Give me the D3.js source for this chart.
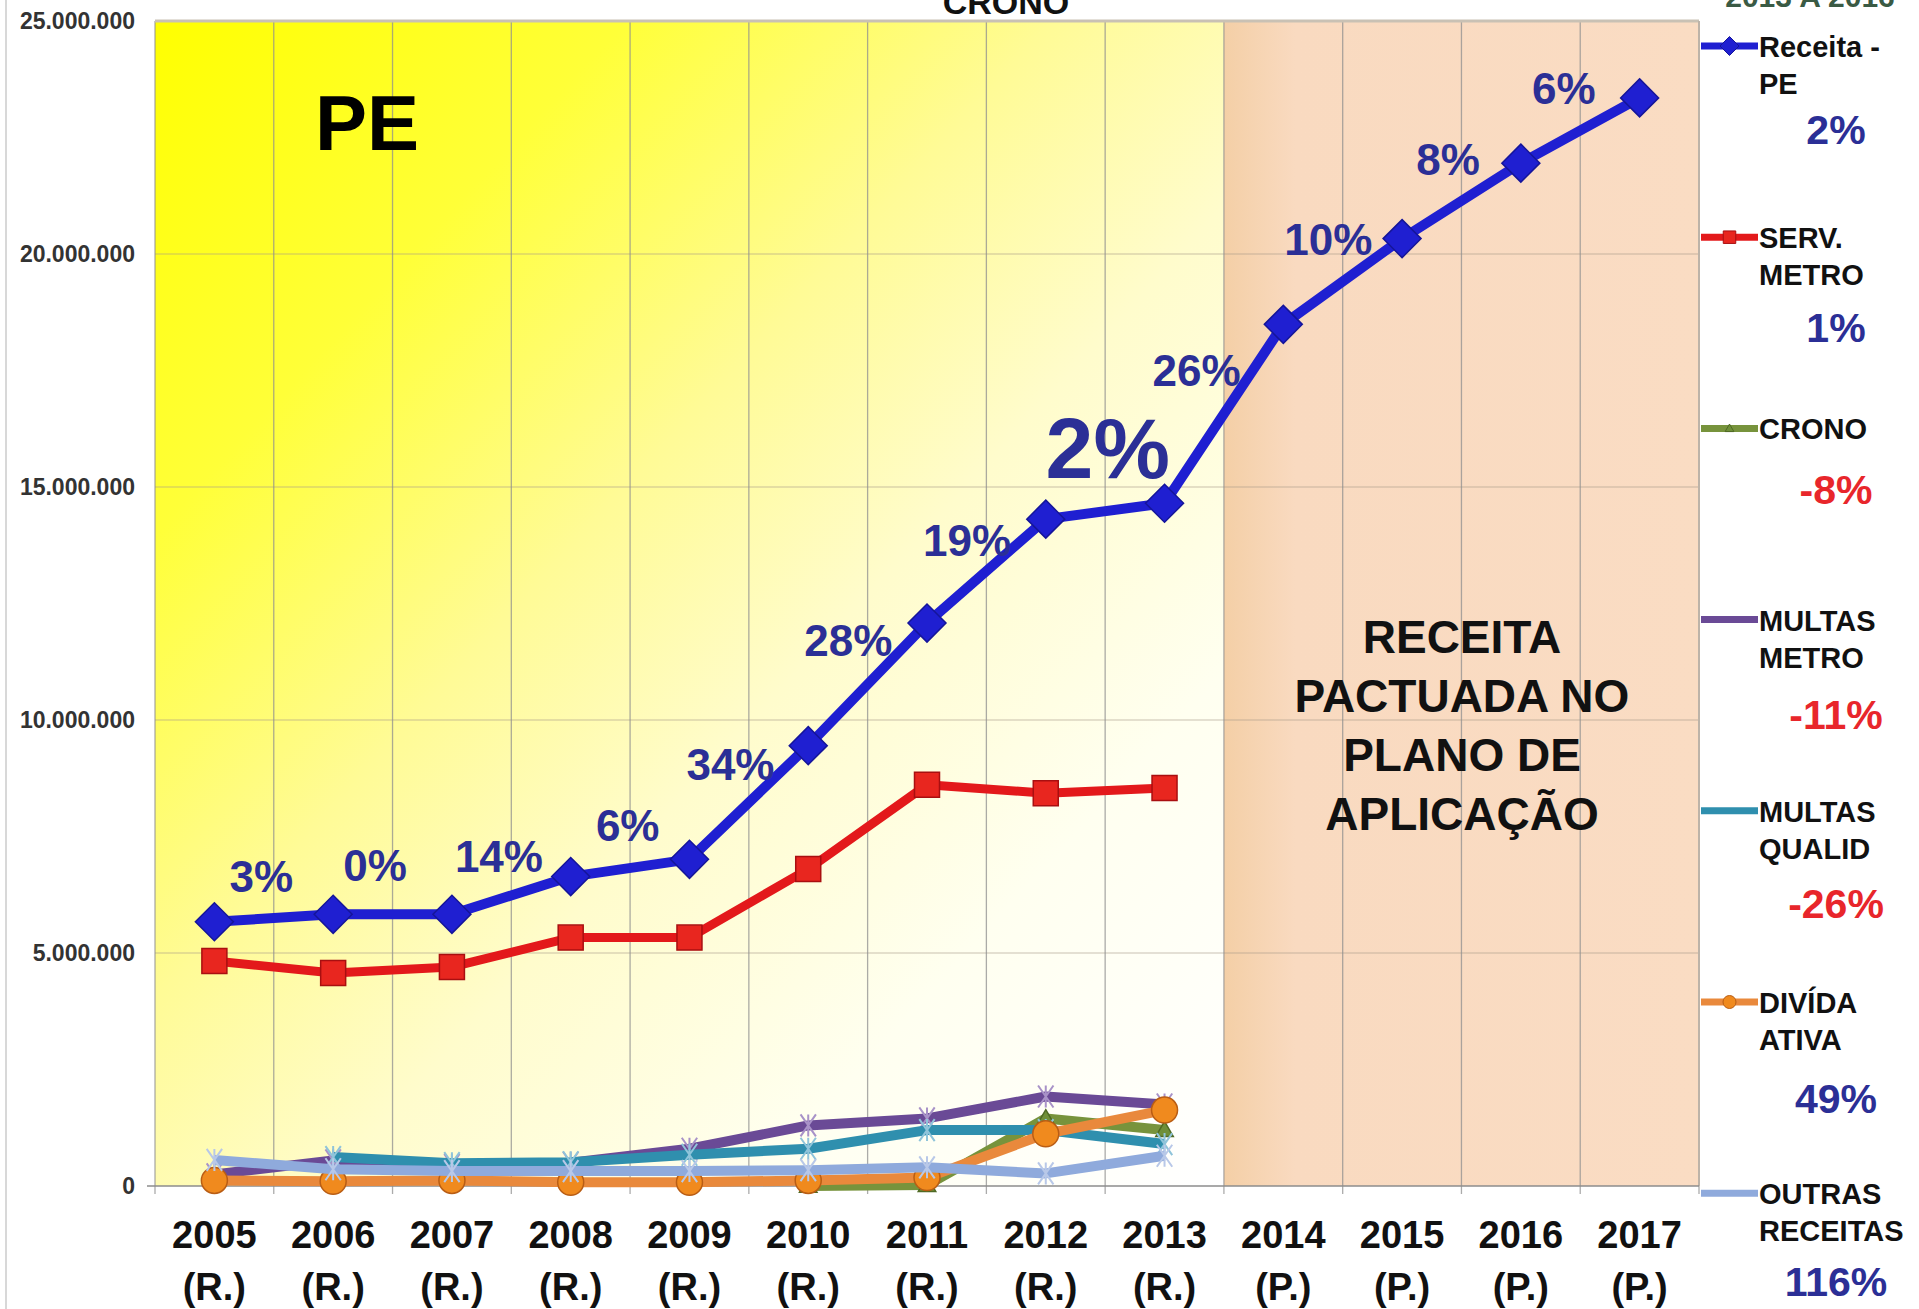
<!DOCTYPE html>
<html>
<head>
<meta charset="utf-8">
<script src="https://cdn.jsdelivr.net/npm/d3@7"></script>
<style>
  body { margin: 0; background: #fff; }
  svg { display: block; }
  text { font-family: "Liberation Sans", Arial, sans-serif; font-weight: bold; }
</style>
</head>
<body>
<div id="chart"></div>
<script>
// ---- data ----
var years = ["2005","2006","2007","2008","2009","2010","2011","2012","2013","2014","2015","2016","2017"];
var yearKind = ["(R.)","(R.)","(R.)","(R.)","(R.)","(R.)","(R.)","(R.)","(R.)","(P.)","(P.)","(P.)","(P.)"];

var receitaPE     = [5.67e6, 5.83e6, 5.83e6, 6.64e6, 7.01e6, 9.45e6, 12.08e6, 14.31e6, 14.65e6, 18.49e6, 20.33e6, 21.95e6, 23.35e6];
var servMetro     = [4.83e6, 4.57e6, 4.70e6, 5.33e6, 5.33e6, 6.80e6, 8.61e6, 8.43e6, 8.54e6, null, null, null, null];
var crono         = [null, null, null, null, null, 0.0, 0.02e6, 1.45e6, 1.20e6, null, null, null, null];
var multasMetro   = [0.25e6, 0.55e6, 0.45e6, 0.50e6, 0.80e6, 1.30e6, 1.45e6, 1.92e6, 1.75e6, null, null, null, null];
var multasQualid  = [null, 0.62e6, 0.49e6, 0.51e6, 0.67e6, 0.80e6, 1.20e6, 1.20e6, 0.90e6, null, null, null, null];
var dividaAtiva   = [0.12e6, 0.10e6, 0.12e6, 0.08e6, 0.08e6, 0.12e6, 0.18e6, 1.12e6, 1.63e6, null, null, null, null];
var outrasReceitas= [0.56e6, 0.36e6, 0.32e6, 0.32e6, 0.32e6, 0.34e6, 0.40e6, 0.27e6, 0.65e6, null, null, null, null];

var growthLabels = ["3%","0%","14%","6%","34%","28%","19%","2%","26%","10%","8%","6%"];

var seriesNames = [["Receita -","PE"],["SERV.","METRO"],["CRONO"],["MULTAS","METRO"],["MULTAS","QUALID"],["DIVÍDA","ATIVA"],["OUTRAS","RECEITAS"]];
var seriesPct   = ["2%","1%","-8%","-11%","-26%","49%","116%"];

var yTicks = [0, 5e6, 10e6, 15e6, 20e6, 25e6];
var projText = ["RECEITA","PACTUADA NO","PLANO DE","APLICAÇÃO"];

// ---- layout ----
var W = 1919, H = 1309;
var plotL = 155, plotR = 1699, plotT = 21, plotB = 1186;
var lastReal = "2013";

// label offsets from their point (px)
var growthOffsets = [[47,-46],[42,-49],[47,-58],[57,-51],[41,-95],[40,-105],[40,-83],[62,-72],[32,-133],[45,-85],[46,-79],[43,-75]];
// legend % below last label line (px, to text middle)
var pctOffsets = [46, 53, 61, 57, 55, 59, 51];

var svg = d3.select("#chart").append("svg")
    .attr("width", W)
    .attr("height", H);

var x = d3.scaleBand().domain(years).range([plotL, plotR]).padding(0);
var y = d3.scaleLinear().domain([0, 25e6]).range([plotB, plotT]);
var cx = function(i){ return x(years[i]) + x.bandwidth() / 2 };

var defs = svg.append("defs");
var grad = defs.append("linearGradient").attr("id", "realGrad")
    .attr("x1", 0).attr("y1", 0).attr("x2", 1).attr("y2", 1);
[[0,"#ffff00"],[0.22,"#ffff38"],[0.42,"#fffb96"],[0.58,"#fffccc"],[0.78,"#fffff0"],[1,"#ffffff"]].forEach(function(s){
  grad.append("stop").attr("offset", s[0]).attr("stop-color", s[1]);
});
var pgrad = defs.append("linearGradient").attr("id", "projGrad")
    .attr("x1", 0).attr("y1", 0).attr("x2", 1).attr("y2", 0);
[[0,"#f4cfa6"],[0.15,"#f9dac0"],[1,"#fadcc3"]].forEach(function(s){
  pgrad.append("stop").attr("offset", s[0]).attr("stop-color", s[1]);
});

// faint page border on the left
svg.append("line").attr("x1", 6).attr("x2", 6).attr("y1", 0).attr("y2", H)
  .attr("stroke", "#d8d8d8").attr("stroke-width", 2);

// backgrounds
var splitX = x(years[years.indexOf(lastReal) + 1]);
svg.append("rect").attr("x", plotL).attr("y", plotT)
  .attr("width", splitX - plotL).attr("height", plotB - plotT)
  .attr("fill", "url(#realGrad)");
svg.append("rect").attr("x", splitX).attr("y", plotT)
  .attr("width", plotR - splitX).attr("height", plotB - plotT)
  .attr("fill", "url(#projGrad)");

// grid
svg.append("g").selectAll("line").data(yTicks.slice(1, -1)).enter().append("line")
  .attr("x1", plotL).attr("x2", plotR)
  .attr("y1", function(d){ return y(d) }).attr("y2", function(d){ return y(d) })
  .attr("stroke", "#a89a88").attr("stroke-opacity", 0.6).attr("stroke-width", 1.2);

svg.append("g").selectAll("line").data(d3.range(years.length + 1)).enter().append("line")
  .attr("x1", function(i){ return plotL + i * x.bandwidth() })
  .attr("x2", function(i){ return plotL + i * x.bandwidth() })
  .attr("y1", plotT).attr("y2", plotB + 8)
  .attr("stroke", "#8f8f8f").attr("stroke-opacity", 0.75).attr("stroke-width", 1.3);

// plot frame
svg.append("line").attr("x1", plotL).attr("x2", plotR).attr("y1", plotT).attr("y2", plotT)
  .attr("stroke", "#c9c1b4").attr("stroke-width", 3);
svg.append("line").attr("x1", plotR).attr("x2", plotR).attr("y1", plotT).attr("y2", plotB)
  .attr("stroke", "#bdb3a8").attr("stroke-width", 2);
svg.append("line").attr("x1", plotL - 8).attr("x2", plotR).attr("y1", plotB).attr("y2", plotB)
  .attr("stroke", "#8c8c8c").attr("stroke-width", 1.5);

// y axis
var ptBR = d3.formatLocale({decimal: ",", thousands: ".", grouping: [3], currency: ["R$", ""]});
var yAxis = d3.axisLeft(y).tickValues(yTicks).tickSize(0).tickPadding(20)
  .tickFormat(ptBR.format(",d"));
var gy = svg.append("g").attr("transform", "translate(" + plotL + ",0)").call(yAxis);
gy.select(".domain").remove();
gy.selectAll("text")
  .style("font-family", "\"Liberation Sans\", Arial, sans-serif")
  .style("font-weight", "bold")
  .attr("font-size", 23).attr("fill", "#333");

// x labels
var xl = svg.append("g").selectAll("text").data(years).enter().append("text")
  .attr("text-anchor", "middle").attr("font-size", 38).attr("fill", "#111");
xl.append("tspan").attr("x", function(d, i){ return cx(i) }).attr("y", 1248).text(function(d){ return d });
xl.append("tspan").attr("x", function(d, i){ return cx(i) }).attr("y", 1300).text(function(d, i){ return yearKind[i] });

// titles (cut off by the top edge, as in the picture)
svg.append("text").attr("x", 1006).attr("y", 14).attr("text-anchor", "middle")
  .attr("font-size", 34).attr("fill", "#111").text("CRONO");
svg.append("text").attr("x", 1810).attr("y", 7).attr("text-anchor", "middle")
  .attr("font-size", 30).attr("fill", "#3a5a44").text("2013 A 2016");
svg.append("text").attr("x", 367).attr("y", 150).attr("text-anchor", "middle")
  .attr("font-size", 78).attr("fill", "#000").text("PE");
svg.append("g").selectAll("text").data(projText).enter().append("text")
  .attr("x", 1462).attr("y", function(d, i){ return 653 + i * 59 })
  .attr("text-anchor", "middle").attr("font-size", 46).attr("fill", "#111")
  .text(function(d){ return d });

// series
var series = [
  {values: receitaPE,      color: "#1f1fd1", width: 10, marker: "diamond", mfill: "#1f1fd1", mstroke: "#15159a", msize: 19},
  {values: servMetro,      color: "#e3191b", width: 9,  marker: "square",  mfill: "#e8261f", mstroke: "#a90f10", msize: 25},
  {values: crono,          color: "#77933c", width: 10, marker: "triangle",mfill: "#6f8f38", mstroke: "#4f6a24", msize: 14},
  {values: multasMetro,    color: "#6a4a96", width: 10, marker: "star",    mfill: "none",    mstroke: "#a892c8", msize: 11},
  {values: multasQualid,   color: "#2f8fae", width: 10, marker: "star",    mfill: "none",    mstroke: "#8fc4da", msize: 11},
  {values: dividaAtiva,    color: "#e9893c", width: 10, marker: "circle",  mfill: "#f08a1e", mstroke: "#b95d14", msize: 13},
  {values: outrasReceitas, color: "#8faadc", width: 10, marker: "star",    mfill: "none",    mstroke: "#b8c8e8", msize: 11}
];

function markerPath(kind, s){
  if (kind == "diamond") return "M0," + (-s) + "L" + s + ",0L0," + s + "L" + (-s) + ",0Z";
  if (kind == "square") return "M" + (-s/2) + "," + (-s/2) + "h" + s + "v" + s + "h" + (-s) + "Z";
  if (kind == "triangle") return "M0," + (-s/1.6) + "L" + (s/1.6) + "," + (s/2.2) + "L" + (-s/1.6) + "," + (s/2.2) + "Z";
  if (kind == "circle") return d3.symbol(d3.symbolCircle, Math.PI * s * s)();
  // star-ish x
  return "M" + (-s*0.7) + "," + (-s) + "L" + (s*0.7) + "," + s + "M" + (s*0.7) + "," + (-s) + "L" + (-s*0.7) + "," + s + "M0," + (-s) + "V" + s;
}

var line = d3.line()
  .defined(function(d){ return d != null })
  .x(function(d, i){ return cx(i) })
  .y(function(d){ return y(d) });

series.forEach(function(s){
  var g = svg.append("g");
  g.append("path")
    .attr("d", line(s.values))
    .attr("fill", "none")
    .attr("stroke", s.color)
    .attr("stroke-width", s.width)
    .attr("stroke-linejoin", "round");
  g.selectAll("path.mk").data(s.values.map(function(v, i){ return {v: v, i: i} }).filter(function(d){ return d.v != null }))
    .enter().append("path").attr("class", "mk")
    .attr("transform", function(d){ return "translate(" + cx(d.i) + "," + y(d.v) + ")" })
    .attr("d", markerPath(s.marker, s.msize))
    .attr("fill", s.mfill)
    .attr("stroke", s.mstroke)
    .attr("stroke-width", s.marker == "star" ? 2 : 1.5);
});

// growth labels on the receita line
svg.append("g").selectAll("text").data(growthLabels).enter().append("text")
  .attr("x", function(d, i){ return cx(i) + growthOffsets[i][0] })
  .attr("y", function(d, i){ var fs = i == 7 ? 86 : 44; return y(receitaPE[i]) + growthOffsets[i][1] + fs * 0.36 })
  .attr("text-anchor", "middle")
  .attr("font-size", function(d, i){ return i == 7 ? 86 : 44 })
  .attr("fill", "#2b2f96")
  .text(function(d){ return d });

// legend
var legX0 = 1701, legX1 = 1758, legY0 = 46, legStep = 191.2;
var leg = svg.append("g").selectAll("g").data(series).enter().append("g")
  .attr("transform", function(d, i){ return "translate(0," + (legY0 + i * legStep) + ")" });
leg.append("line").attr("x1", legX0).attr("x2", legX1).attr("y1", 0).attr("y2", 0)
  .attr("stroke", function(d){ return d.color }).attr("stroke-width", 7);
leg.filter(function(d){ return d.marker != "star" }).append("path")
  .attr("transform", "translate(" + ((legX0 + legX1) / 2) + ",0)")
  .attr("d", function(d){ return markerPath(d.marker, d.msize * 0.5) })
  .attr("fill", function(d){ return d.mfill })
  .attr("stroke", function(d){ return d.mstroke });
leg.each(function(d, i){
  var g = d3.select(this);
  var n = seriesNames[i].length;
  seriesNames[i].forEach(function(t, k){
    g.append("text").attr("x", legX1 + 1).attr("y", 11 + k * 37)
      .attr("font-size", 29).attr("fill", "#111").text(t);
  });
  var pct = seriesPct[i];
  g.append("text").attr("x", 1836).attr("y", 37 * (n - 1) + pctOffsets[i] + 15)
    .attr("text-anchor", "middle").attr("font-size", 41)
    .attr("fill", pct.charAt(0) == "-" ? "#e8262b" : "#2b2f96")
    .text(pct);
});
</script>
</body>
</html>
